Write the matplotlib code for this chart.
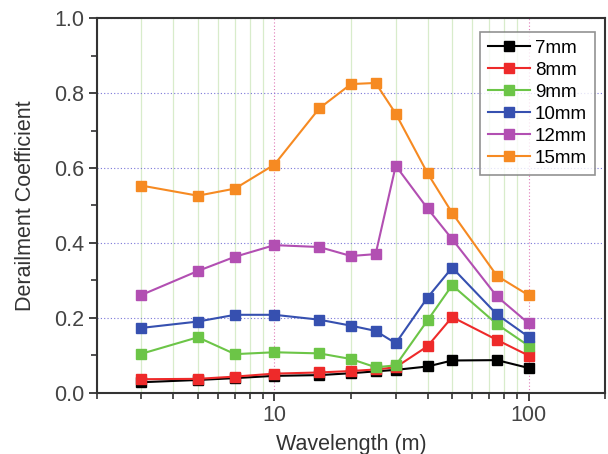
import matplotlib
matplotlib.use("Agg")
import matplotlib.pyplot as plt
from matplotlib.ticker import LogLocator, NullFormatter, MultipleLocator

plt.rcParams['font.family'] = ['Liberation Sans', 'DejaVu Sans']

wavelength = [3, 5, 7, 10, 15, 20, 25, 30, 40, 50, 75, 100]
labels = ['7mm', '8mm', '9mm', '10mm', '12mm', '15mm']
s7 = [0.028, 0.034, 0.039, 0.045, 0.047, 0.052, 0.057, 0.061, 0.070, 0.086, 0.087, 0.066]
s8 = [0.036, 0.037, 0.043, 0.051, 0.054, 0.058, 0.062, 0.068, 0.124, 0.202, 0.141, 0.099]
s9 = [0.104, 0.148, 0.103, 0.108, 0.105, 0.090, 0.068, 0.073, 0.193, 0.287, 0.183, 0.125]
s10 = [0.173, 0.190, 0.208, 0.208, 0.195, 0.179, 0.165, 0.132, 0.254, 0.334, 0.209, 0.149]
s12 = [0.261, 0.325, 0.363, 0.394, 0.389, 0.365, 0.370, 0.606, 0.492, 0.410, 0.257, 0.185]
s15 = [0.553, 0.526, 0.545, 0.609, 0.759, 0.824, 0.827, 0.745, 0.586, 0.480, 0.312, 0.260]
series = [s7, s8, s9, s10, s12, s15]
colors = ['#000000', '#ee2a2a', '#6cc547', '#3650b0', '#b24fb2', '#f68a22']
yticks = [0.0, 0.2, 0.4, 0.6, 0.8, 1.0]
ytick_labels = ['0.0', '0.2', '0.4', '0.6', '0.8', '1.0']
xticks = [10, 100]
xtick_labels = ['10', '100']

fig = plt.figure(figsize=(6.08, 4.54), dpi=100)
ax = fig.add_axes([0.159, 0.135, 0.8365, 0.825])

ax.set_xscale('log')
ax.set_xlim(2, 200)
ax.set_ylim(0, 1.0)

ax.xaxis.set_minor_locator(LogLocator(base=10, subs=range(2, 10)))
ax.xaxis.set_minor_formatter(NullFormatter())
ax.set_xticks(xticks)
ax.set_xticklabels(xtick_labels)
ax.set_yticks(yticks)
ax.set_yticklabels(ytick_labels)
ax.yaxis.set_minor_locator(MultipleLocator(0.1))

ax.grid(True, which='minor', axis='x', color='#d8eccb', linewidth=0.9, linestyle='-')
ax.grid(True, which='major', axis='x', color='#e07ab8', linewidth=0.8, linestyle=(0, (1, 2)))
ax.grid(True, which='major', axis='y', color='#7a76d8', linewidth=0.8, linestyle=(0, (1, 2)))
ax.set_axisbelow(True)

for vals, lab, c in zip(series, labels, colors):
    ax.plot(wavelength, vals, color=c, marker='s', markersize=7, linewidth=1.5,
            label=lab)

for sp in ax.spines.values():
    sp.set_linewidth(1.5)
    sp.set_color('#333333')

ax.tick_params(which='major', direction='out', length=6, width=1.3, labelsize=15.5,
               colors='#333333', labelcolor='#444444', pad=3)
ax.tick_params(which='minor', direction='out', length=4, width=1.2, colors='#333333')

ax.set_xlabel('Wavelength (m)', fontsize=15.5, color='#333333', labelpad=5.5)
ax.set_ylabel('Derailment Coefficient', fontsize=15.5, color='#333333', labelpad=13)

leg = ax.legend(loc='upper right', bbox_to_anchor=(0.980, 0.963), borderaxespad=0,
                fontsize=13.5, frameon=True, fancybox=False, edgecolor='#777777',
                handlelength=2.25, handletextpad=0.25, labelspacing=0.26,
                borderpad=0.42)
leg.get_frame().set_linewidth(1.2)

fig.savefig('out.png', dpi=100)
